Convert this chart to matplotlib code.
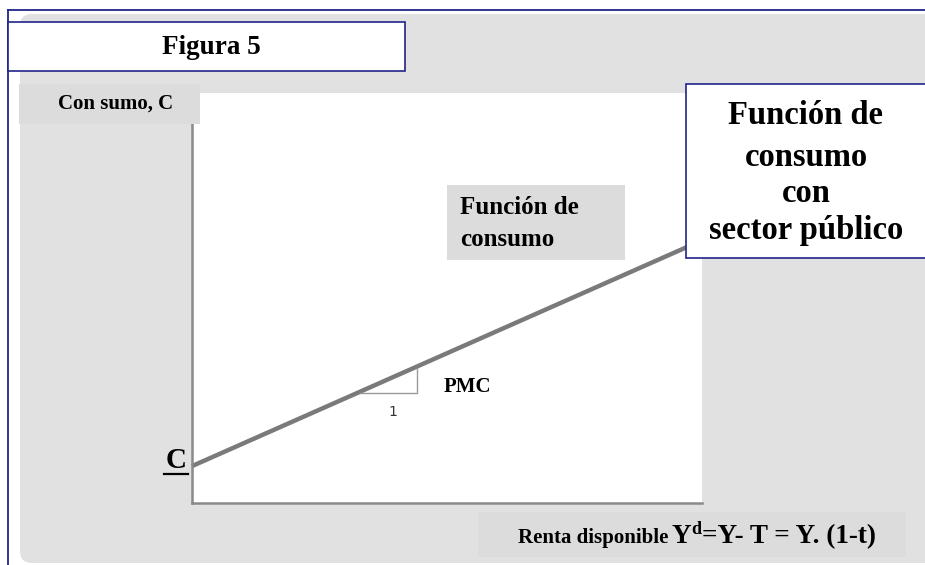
import matplotlib
matplotlib.use('Agg')
import matplotlib.pyplot as plt
from matplotlib.patches import Rectangle, FancyBboxPatch

plt.rcParams['font.family'] = ['Liberation Serif', 'DejaVu Serif']

# datos (unidades arbitrarias del diagrama)
renta = [0.0, 9.7]
consumo = [0.9, 6.24]
tri_x = [3.29, 4.41, 4.41]
tri_y = [2.68, 2.68, 3.29]

W, H = 925, 565
fig = plt.figure(figsize=(W / 100, H / 100), dpi=100)

# fondo en coordenadas de pixel
bg = fig.add_axes([0, 0, 1, 1], zorder=0)
bg.set_xlim(0, W)
bg.set_ylim(H, 0)
bg.axis('off')
bg.add_patch(FancyBboxPatch((20, 14), 940, 549, boxstyle='round,pad=0,rounding_size=12',
                            fc='#e1e1e1', ec='none'))
blue = '#23238a'
bg.plot([8, W], [10, 10], color=blue, lw=1.3)
bg.plot([8, 8], [10, H], color=blue, lw=1.3)

# grafico
ax = fig.add_axes([192 / W, (H - 503) / H, 510 / W, 410 / H], zorder=1)
ax.set_xlim(0, 10)
ax.set_ylim(0, 10)
ax.set_facecolor('white')
for s in ['top', 'right']:
    ax.spines[s].set_visible(False)
for s in ['left', 'bottom']:
    ax.spines[s].set_color('#8a8a8a')
    ax.spines[s].set_linewidth(1.8)
ax.set_xticks([])
ax.set_yticks([])
ax.plot(renta, consumo, color='#7a7a7a', lw=3.2, solid_capstyle='butt', clip_on=False)
ax.plot(tri_x, tri_y, color='#9a9a9a', lw=1.0)

# rotulos
ov = fig.add_axes([0, 0, 1, 1], zorder=2)
ov.set_xlim(0, W)
ov.set_ylim(H, 0)
ov.axis('off')
ov.patch.set_alpha(0)

ov.add_patch(Rectangle((8, 22), 397, 49, fc='white', ec=blue, lw=1.2))
ov.text(211, 47, 'Figura 5', fontsize=19.5, fontweight='bold', ha='center', va='center')

ov.add_patch(Rectangle((19, 84), 181, 40, fc='#dcdcdc', ec='none'))
ov.text(116, 104, 'Con sumo, C', fontsize=15, fontweight='bold', ha='center', va='center')

ov.add_patch(Rectangle((447, 185), 178, 75, fc='#dcdcdc', ec='none'))
ov.text(460, 207, 'Función de', fontsize=18, fontweight='bold', ha='left', va='center')
ov.text(460, 239, 'consumo', fontsize=18, fontweight='bold', ha='left', va='center')

ov.add_patch(Rectangle((686, 84), 250, 174, fc='white', ec=blue, lw=1.2))
for yy, t in zip([115, 157, 193, 231], ['Función de', 'consumo', 'con', 'sector público']):
    ov.text(806, yy, t, fontsize=23.5, fontweight='bold', ha='center', va='center')

ov.add_patch(Rectangle((428, 366), 82, 40, fc='white', ec='none'))
ov.text(467, 387, 'PMC', fontsize=15, fontweight='bold', ha='center', va='center')
ov.text(393, 412, '1', fontsize=10, family='DejaVu Sans', color='#333333',
        ha='center', va='center')

ov.text(176, 461, 'C', fontsize=21, fontweight='bold', ha='center', va='center')
ov.plot([164, 188], [474, 474], color='black', lw=1.6)

ov.add_patch(Rectangle((478, 512), 428, 45, fc='#dcdcdc', ec='none'))
ov.text(668, 543, 'Renta disponible', fontsize=15, fontweight='bold', ha='right', va='baseline')
y_t = ov.text(672, 543, 'Y', fontsize=19.5, fontweight='bold', ha='left', va='baseline')
d_t = ov.annotate('d', xy=(1, 534), xycoords=(y_t, 'data'), fontsize=13, fontweight='bold',
                  ha='left', va='baseline')
ov.annotate('=Y- T = Y. (1-t)', xy=(1, 543), xycoords=(d_t, 'data'), fontsize=19.5,
            fontweight='bold', ha='left', va='baseline')

fig.savefig('out.png', dpi=100)
